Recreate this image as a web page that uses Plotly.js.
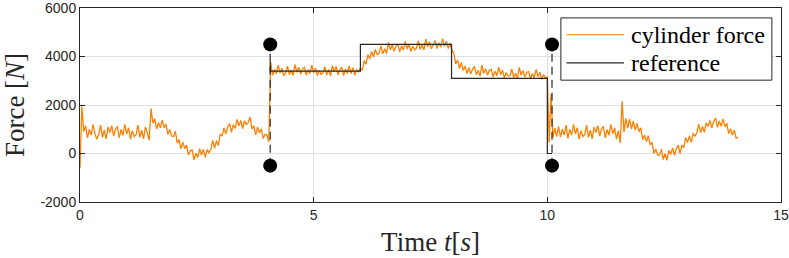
<!DOCTYPE html>
<html>
<head>
<meta charset="utf-8">
<script src="https://cdn.plot.ly/plotly-3.0.1.min.js"></script>
<style>html,body{margin:0;padding:0;background:#fff;}#chart{width:789px;height:258px;}</style>
</head>
<body>
<div id="chart"></div>
<script>
// Sampled cylinder force [N], first sample at t = 0 s, one sample every 0.04 s
const forceStart = 0;
const forceStep = 0.04;
const cylinderForce = [
  -600, 1950, 900, 1150, 640, 990, 760, 1200, 810, 590,
  780, 1170, 670, 960, 600, 1090, 860, 1150, 720, 1010,
  1120, 640, 990, 750, 1200, 810, 1060, 590, 940, 700,
  780, 1170, 670, 960, 600, 1090, 860, 550, 1850, 1250,
  1430, 1020, 1270, 1060, 1380, 1060, 1210, 790, 990, 720,
  700, 920, 440, 570, 190, 470, 200, 350, -60, 110,
  150, -260, 20, -170, 200, -60, 170, -160, 160, 30,
  160, 540, 220, 530, 330, 800, 720, 1060, 810, 1090,
  1230, 870, 1190, 1030, 1410, 1140, 1360, 1030, 1350, 1190,
  1280, 1510, 1000, 1150, 770, 1090, 850, 1020, 620, 790,
  780, 480, 3780, 3230, 3460, 3290, 3640, 3320, 3520, 3210,
  3310, 3600, 3250, 3440, 3220, 3670, 3350, 3560, 3270, 3480,
  3550, 3230, 3460, 3290, 3640, 3320, 3520, 3210, 3430, 3260,
  3330, 3580, 3230, 3470, 3200, 3620, 3380, 3590, 3240, 3450,
  3560, 3210, 3480, 3300, 3610, 3300, 3540, 3230, 3450, 3370,
  3520, 3430, 3830, 3680, 4080, 3900, 4200, 3980, 4290, 4080,
  4130, 4440, 4110, 4320, 4120, 4580, 4270, 4490, 4210, 4430,
  4510, 4190, 4440, 4260, 4620, 4310, 4520, 4200, 4430, 4270,
  4340, 4650, 4290, 4490, 4270, 4720, 4400, 4610, 4320, 4530,
  4660, 4330, 4570, 4390, 4740, 4420, 4630, 4330, 4550, 4250,
  4120, 3700, 3850, 3500, 3760, 3420, 3600, 3300, 3540, 3280,
  3480, 3590, 3250, 3420, 3190, 3640, 3310, 3500, 3230, 3430,
  3470, 3160, 3390, 3210, 3560, 3250, 3440, 3120, 3340, 3190,
  3200, 3490, 3130, 3310, 3100, 3550, 3230, 3420, 3150, 3350,
  3380, 3080, 3300, 3140, 3470, 3160, 3350, 3050, 3260, 3110,
  3150, 450, 2450, 650, 1050, 700, 1120, 680, 1000, 760,
  1170, 620, 990, 760, 1200, 810, 1060, 590, 940, 700,
  780, 1170, 670, 960, 600, 1090, 860, 1150, 720, 1010,
  1120, 640, 990, 750, 1200, 810, 1060, 590, 940, 430,
  2150, 880, 1450, 1050, 1420, 1020, 1330, 960, 1240, 900,
  1060, 570, 760, 490, 740, 360, 460, 0, 190, -70,
  -70, 180, -250, -10, -280, 130, -30, 230, -70, 200,
  340, 0, 350, 240, 660, 450, 730, 460, 830, 720,
  850, 1210, 860, 1120, 870, 1270, 1110, 1360, 1060, 1330,
  1460, 1080, 1340, 1120, 1430, 1100, 1250, 820, 1020, 760,
  960, 640, 650
];

// Reference force (step profile)
const refTime  = [4.07, 4.07, 6.0, 6.0, 7.95, 7.95, 10.0, 10.0, 10.1];
const refForce = [3770, 3400, 3400, 4500, 4500, 3100, 3100, 0, 0];

// Switching instants marked by dashed lines with dots at the ends
const markTimes = [4.07, 10.1];
const markLow = -500;
const markHigh = 4500;

// Axis ticks
const xTicks = [0, 5, 10, 15];
const yTicks = [-2000, 0, 2000, 4000, 6000];

const seriesNames = ['cylinder force', 'reference'];
const seriesColors = ['#ff8000', '#262626'];

const traces = [
  {
    type: 'scatter', mode: 'lines', name: seriesNames[0],
    x0: forceStart, dx: forceStep, y: cylinderForce,
    line: {color: seriesColors[0], width: 1.3}
  },
  {
    type: 'scatter', mode: 'lines', name: seriesNames[1],
    x: refTime, y: refForce,
    line: {color: seriesColors[1], width: 1.2}
  }
];
markTimes.forEach(function (t) {
  traces.push({
    type: 'scatter', mode: 'lines+markers', showlegend: false, hoverinfo: 'skip',
    x: [t, t], y: [markLow, markHigh],
    line: {color: '#262626', width: 1.2, dash: '8px,5px'},
    marker: {color: '#000000', size: 14}
  });
});

const tickFont = {family: 'Liberation Sans, Arial, sans-serif', size: 14, color: '#262626'};
const serif = 'Liberation Serif, Times New Roman, serif';

// Legend box drawn in paper coordinates (MATLAB-style boxed legend)
const legendBox = {x0: 0.686, x1: 0.987, y0: 0.628, y1: 0.949};
const legendRows = [0.862, 0.717];
const legendSample = {x0: 0.694, x1: 0.776};
const legendTextX = 0.783;

const shapes = [{
  type: 'rect', xref: 'paper', yref: 'paper',
  x0: legendBox.x0, x1: legendBox.x1, y0: legendBox.y0, y1: legendBox.y1,
  fillcolor: '#ffffff', line: {color: '#262626', width: 1}, layer: 'above'
}];
const annotations = [];
seriesNames.forEach(function (name, k) {
  shapes.push({
    type: 'line', xref: 'paper', yref: 'paper',
    x0: legendSample.x0, x1: legendSample.x1, y0: legendRows[k], y1: legendRows[k],
    line: {color: seriesColors[k], width: 1.2}, layer: 'above'
  });
  annotations.push({
    xref: 'paper', yref: 'paper', x: legendTextX, y: legendRows[k],
    xanchor: 'left', yanchor: 'middle', showarrow: false, text: name,
    font: {family: serif, size: 24, color: '#000000'}
  });
});

const layout = {
  width: 789, height: 258,
  margin: {l: 80, r: 8, t: 8, b: 56},
  paper_bgcolor: '#ffffff', plot_bgcolor: '#ffffff',
  showlegend: false,
  shapes: shapes,
  annotations: annotations,
  xaxis: {
    range: [0, 15], tickvals: xTicks, ticktext: xTicks.map(String),
    showline: true, linecolor: '#262626', linewidth: 1, mirror: 'ticks',
    ticks: 'inside', ticklen: 5, tickcolor: '#262626',
    showgrid: true, gridcolor: '#e0e0e0', gridwidth: 1, zeroline: false,
    tickfont: tickFont, ticklabeloverflow: 'allow',
    title: {text: 'Time <i>t</i>[<i>s</i>]', font: {family: serif, size: 27, color: '#262626'}, standoff: 10}
  },
  yaxis: {
    range: [-2000, 6000], tickvals: yTicks, ticktext: yTicks.map(String),
    showline: true, linecolor: '#262626', linewidth: 1, mirror: 'ticks',
    ticks: 'inside', ticklen: 5, tickcolor: '#262626',
    showgrid: true, gridcolor: '#e0e0e0', gridwidth: 1, zeroline: false,
    tickfont: tickFont, ticklabeloverflow: 'allow',
    title: {text: 'Force [<i>N</i>]', font: {family: serif, size: 27, color: '#262626'}, standoff: 8}
  }
};

Plotly.newPlot('chart', traces, layout, {displayModeBar: false, staticPlot: true});
</script>
</body>
</html>
